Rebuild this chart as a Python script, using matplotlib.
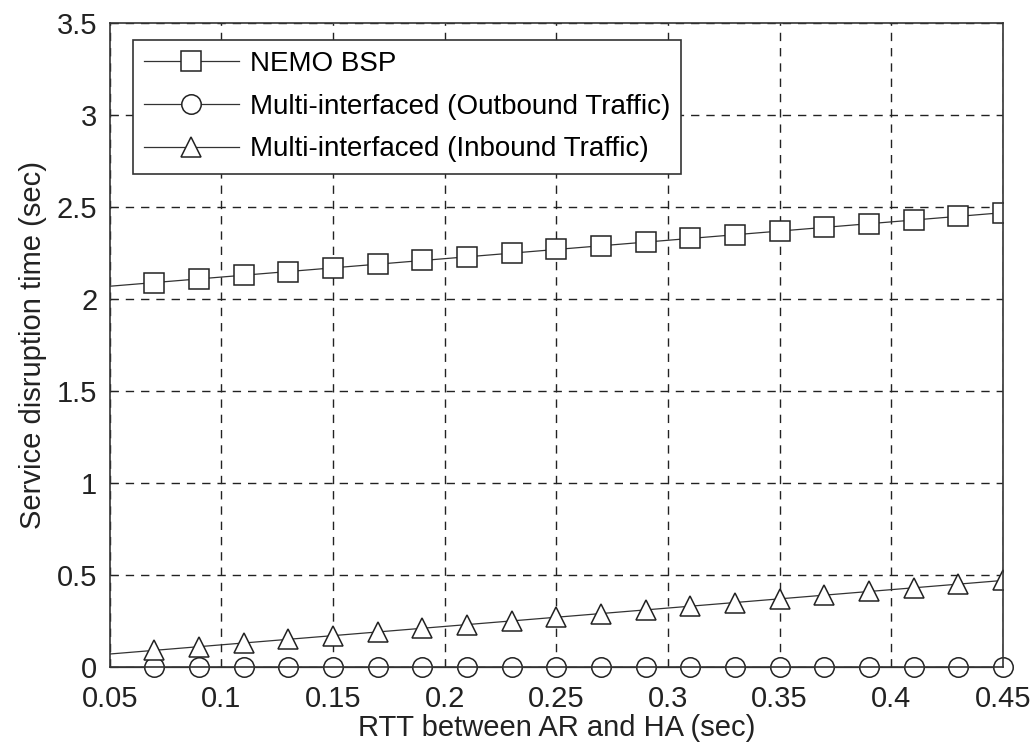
import numpy as np
import matplotlib
matplotlib.use('Agg')
import matplotlib.pyplot as plt

plt.rcParams['font.family'] = ['Liberation Sans', 'DejaVu Sans']

# RTT (sec): the line starts at 0.05, markers from 0.07 to 0.45
rtt = [0.05, 0.07, 0.09, 0.11, 0.13, 0.15, 0.17, 0.19, 0.21, 0.23, 0.25,
       0.27, 0.29, 0.31, 0.33, 0.35, 0.37, 0.39, 0.41, 0.43, 0.45]

nemo_bsp = [2.07, 2.09, 2.11, 2.13, 2.15, 2.17, 2.19, 2.21, 2.23, 2.25, 2.27,
            2.29, 2.31, 2.33, 2.35, 2.37, 2.39, 2.41, 2.43, 2.45, 2.47]
outbound = [0, 0, 0, 0, 0, 0, 0, 0, 0, 0, 0,
            0, 0, 0, 0, 0, 0, 0, 0, 0, 0]
inbound = [0.07, 0.09, 0.11, 0.13, 0.15, 0.17, 0.19, 0.21, 0.23, 0.25, 0.27,
           0.29, 0.31, 0.33, 0.35, 0.37, 0.39, 0.41, 0.43, 0.45, 0.47]

fig = plt.figure(figsize=(10.36, 7.51), dpi=100)
ax = fig.add_axes([0.106, 0.112, 0.862, 0.857])

estilo = dict(color='#333333', lw=0.9, mfc='white', mec='#222222', mew=1.1,
              markersize=14, markevery=range(1, len(rtt)))
ax.plot(rtt, nemo_bsp, marker='s', label='NEMO BSP', **estilo)
ax.plot(rtt, outbound, marker='o', label='Multi-interfaced (Outbound Traffic)', clip_on=False, **estilo)
ax.plot(rtt, inbound, marker='^', label='Multi-interfaced (Inbound Traffic)', **estilo)

ax.set_xlim(0.05, 0.45)
ax.set_ylim(0, 3.5)
ax.set_xticks([0.05, 0.1, 0.15, 0.2, 0.25, 0.3, 0.35, 0.4, 0.45])
ax.set_xticklabels(['0.05', '0.1', '0.15', '0.2', '0.25', '0.3', '0.35', '0.4', '0.45'])
ax.set_yticks([0, 0.5, 1, 1.5, 2, 2.5, 3, 3.5])
ax.set_yticklabels(['0', '0.5', '1', '1.5', '2', '2.5', '3', '3.5'])
ax.tick_params(direction='in', labelsize=21, length=6, colors='#222222')
ax.tick_params(axis='x', pad=13)
ax.tick_params(axis='y', pad=9)
ax.grid(True, linestyle=(0, (6, 5)), color='#222222', lw=1.0)
for s in ax.spines.values():
    s.set_color('#333333')
    s.set_linewidth(1.2)

ax.set_xlabel('RTT between AR and HA (sec)', fontsize=21, color='#222222', labelpad=1)
ax.set_ylabel('Service disruption time (sec)', fontsize=21, color='#222222', labelpad=7)

leg = ax.legend(loc='upper left', bbox_to_anchor=(0.026, 0.974), borderaxespad=0,
                fontsize=20, fancybox=False, framealpha=1, edgecolor='#333333',
                handlelength=3.4, handletextpad=0.4, borderpad=0.4, labelspacing=0.6)
leg.get_frame().set_linewidth(1.2)

plt.savefig('out.png', dpi=100)
